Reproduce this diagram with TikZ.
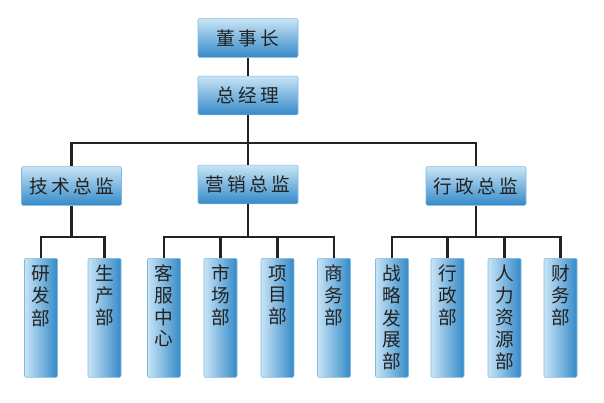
\documentclass[tikz,border=0pt]{standalone}
\usepackage{fontspec}
\newfontfamily\cjk{Noto Sans CJK SC}
\newfontfamily\cjkwide[LetterSpace=18]{Noto Sans CJK SC}
\definecolor{boxlight}{RGB}{200,228,246}
\definecolor{boxdark}{RGB}{52,138,200}
\definecolor{boxline}{RGB}{130,185,222}
\definecolor{linecol}{RGB}{34,34,34}
\newcommand{\vtext}[1]{\begin{tabular}[t]{@{}c@{}}#1\end{tabular}}
\tikzset{
  head/.style={draw=boxline, rounded corners=1pt, top color=boxlight,
    bottom color=boxdark, minimum width=75pt, minimum height=29pt,
    font=\cjkwide\fontsize{14}{16}\selectfont, text=linecol},
  dept/.style={draw=boxline, rounded corners=1pt, left color=boxlight,
    right color=boxdark, anchor=north, minimum width=24.75pt,
    inner xsep=0pt, inner ysep=0pt, text height=17pt, text depth=72.25pt,
    font=\cjk\fontsize{14}{15.75}\selectfont, text=linecol},
  wire/.style={draw=linecol, line width=1.6pt}
}
\begin{document}
\begin{tikzpicture}[x=0.75pt,y=-0.75pt]
   \useasboundingbox (0,0) rectangle (604,403);
   \node[head] (chair) at (248,38) {董事长};
   \node[head] (gm) at (248,95.5) {总经理};
   \node[head] (tech) at (71.5,186) {技术总监};
   \node[head] (mkt) at (248,184.5) {营销总监};
   \node[head] (admin) at (476,186) {行政总监};
   \node[dept] (rd) at (41,258) {\vtext{研\\发\\部}};
   \node[dept] (prod) at (104.5,258) {\vtext{生\\产\\部}};
   \node[dept] (cs) at (164,258) {\vtext{客\\服\\中\\心}};
   \node[dept] (market) at (220.5,258) {\vtext{市\\场\\部}};
   \node[dept] (proj) at (277.5,258) {\vtext{项\\目\\部}};
   \node[dept] (biz) at (334,258) {\vtext{商\\务\\部}};
   \node[dept] (strat) at (392,258) {\vtext{战\\略\\发\\展\\部}};
   \node[dept] (office) at (447.5,258) {\vtext{行\\政\\部}};
   \node[dept] (hr) at (504.5,258) {\vtext{人\\力\\资\\源\\部}};
   \node[dept] (fin) at (560.5,258) {\vtext{财\\务\\部}};
   \coordinate (topbus) at (248,143);
   \coordinate (techbus) at (71.5,237);
   \coordinate (mktbus) at (248,237);
   \coordinate (adminbus) at (476,237);
   \draw[wire] (chair.south) -- (gm.north);
   \draw[wire] (gm.south) -- (topbus);
   \draw[wire] (tech.north) |- (topbus) -| (admin.north);
   \draw[wire] (topbus) -- (mkt.north);
   \draw[wire] (tech.south) -- (techbus);
   \draw[wire] (rd.north) |- (techbus) -| (prod.north);
   \draw[wire] (mkt.south) -- (mktbus);
   \draw[wire] (cs.north) |- (mktbus) -| (biz.north);
   \draw[wire] (market.north) -- (market.north |- mktbus);
   \draw[wire] (proj.north) -- (proj.north |- mktbus);
   \draw[wire] (admin.south) -- (adminbus);
   \draw[wire] (strat.north) |- (adminbus) -| (fin.north);
   \draw[wire] (office.north) -- (office.north |- adminbus);
   \draw[wire] (hr.north) -- (hr.north |- adminbus);
\end{tikzpicture}
\end{document}
